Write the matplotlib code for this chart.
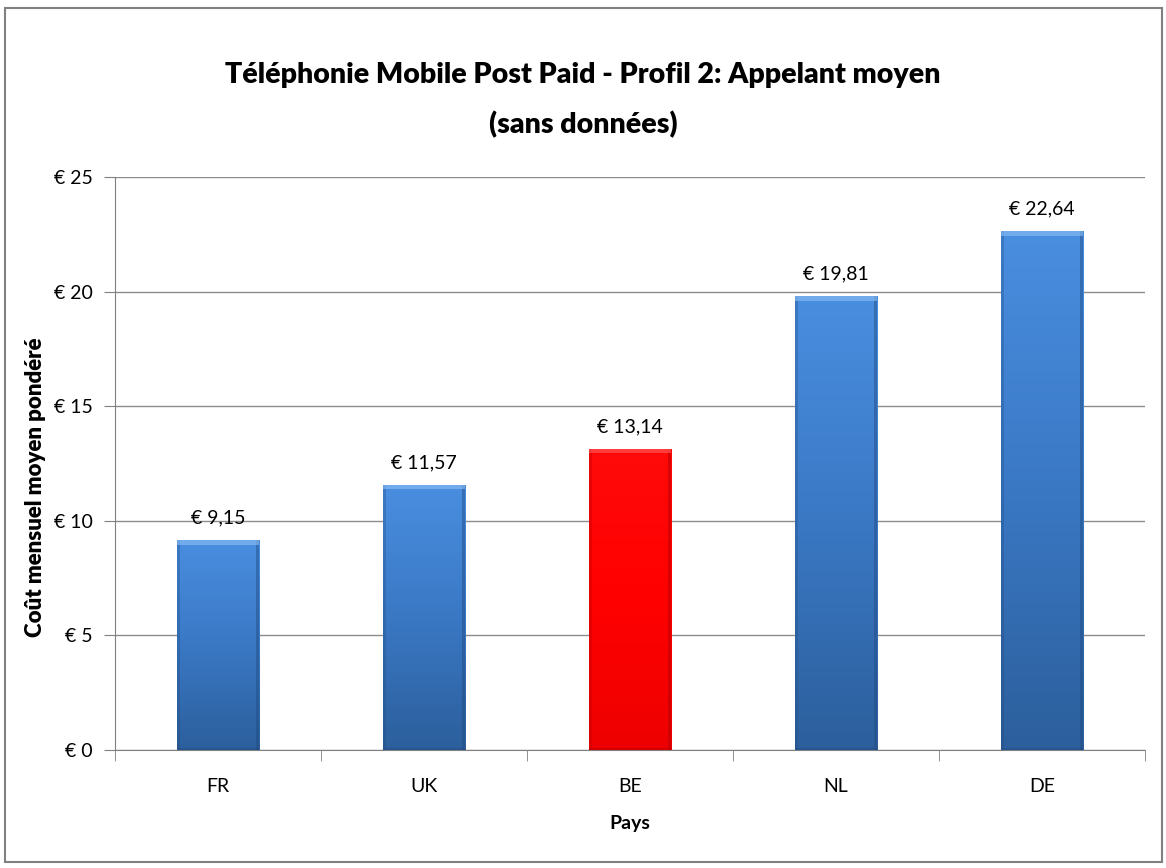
import matplotlib
matplotlib.use("Agg")
import matplotlib.pyplot as plt
import numpy as np
from matplotlib.patches import Rectangle
from matplotlib.colors import LinearSegmentedColormap

countries = ["FR", "UK", "BE", "NL", "DE"]
costs = [9.15, 11.57, 13.14, 19.81, 22.64]
labels = ["€ 9,15", "€ 11,57", "€ 13,14", "€ 19,81", "€ 22,64"]
highlight = "BE"
yticks = [0, 5, 10, 15, 20, 25]
ytick_labels = ["€ 0", "€ 5", "€ 10", "€ 15", "€ 20", "€ 25"]

plt.rcParams['font.family'] = ['Lato', 'DejaVu Sans']

fig = plt.figure(figsize=(11.66, 8.68), dpi=100)
fig.patches.append(Rectangle((5/1166, 1-862/868), 1157/1166, 854/868, transform=fig.transFigure,
                             fill=False, edgecolor="#808080", linewidth=1.5))

ax = fig.add_axes([115/1166, 1-750/868, 1030/1166, 573/868])
x = np.arange(len(countries))
width = 0.4

blue_cmap = LinearSegmentedColormap.from_list("b", ["#4a8ee0", "#3a78c4", "#2c5f9c"])
red_cmap = LinearSegmentedColormap.from_list("r", ["#ff0a0a", "#ff0000", "#ee0000"])

bars = ax.bar(x, costs, width=width, color="none", edgecolor="none", zorder=3)
for b, c, v in zip(bars, countries, costs):
    cmap = red_cmap if c == highlight else blue_cmap
    x0 = b.get_x(); w = b.get_width(); h = b.get_height()
    grad = np.linspace(0, 1, 256).reshape(-1, 1)
    im = ax.imshow(grad, cmap=cmap, aspect="auto", extent=(x0, x0 + w, 0, h),
                   origin="upper", zorder=3)
    im.set_clip_path(b)
    edge = "#1f4a80" if c != highlight else "#b00000"
    ax.add_patch(Rectangle((x0, 0), w * 0.035, h, color=edge, alpha=0.3, zorder=4, lw=0))
    ax.add_patch(Rectangle((x0 + w * 0.965, 0), w * 0.035, h, color=edge, alpha=0.45, zorder=4, lw=0))
    top = "#8fc0f5" if c != highlight else "#ff6060"
    ax.add_patch(Rectangle((x0, h - 0.2), w, 0.2, color=top, alpha=0.6, zorder=4, lw=0))
    ax.add_patch(Rectangle((x0, 0), w, 0.08, color=edge, alpha=0.4, zorder=4, lw=0))

for xi, v, lab in zip(x, costs, labels):
    ax.annotate(lab, (xi, v), xytext=(0, 10), textcoords="offset points",
                ha="center", va="bottom", fontsize=14, color="#000000")

ax.set_xlim(-0.5, len(countries) - 0.5)
ax.set_ylim(0, 25)
ax.set_yticks(yticks)
ax.set_yticklabels(ytick_labels, fontsize=14)
ax.set_xticks(x)
ax.set_xticklabels(countries, fontsize=14)
ax.tick_params(axis="x", length=0, pad=20)
ax.set_xticks(np.arange(-0.5, len(countries), 1), minor=True)
ax.tick_params(axis="x", which="minor", length=8, color="#808080")
ax.tick_params(axis="y", length=8, color="#808080", pad=8)
ax.grid(axis="y", color="#8c8c8c", linewidth=1, zorder=0)
for s in ["top", "right"]:
    ax.spines[s].set_visible(False)
ax.spines["left"].set_color("#808080")
ax.spines["bottom"].set_color("#808080")

ax.set_xlabel("Pays", fontsize=14, fontweight="bold")
ax.xaxis.set_label_coords(0.5, -(815 - 750) / 573)
ax.set_ylabel("Coût mensuel moyen pondéré", fontsize=16, fontweight="heavy")
ax.yaxis.set_label_coords(-(115 - 46) / 1030, (750 - 487) / 573)

fig.text(0.5, 1 - 75/868, "Téléphonie Mobile Post Paid - Profil 2: Appelant moyen",
         ha="center", va="center", fontsize=20.5, fontweight="heavy")
fig.text(0.5, 1 - 125/868, "(sans données)", ha="center", va="center", fontsize=20.5, fontweight="heavy")

fig.savefig("out.png", dpi=100)
